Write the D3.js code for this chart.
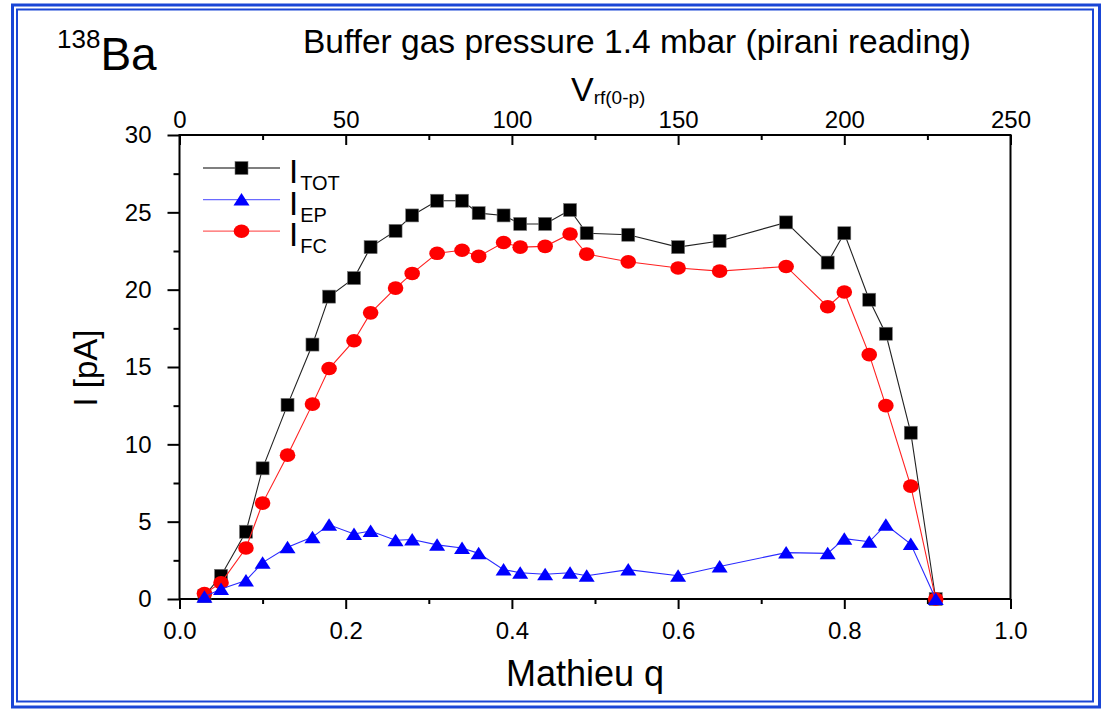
<!DOCTYPE html>
<html>
<head>
<meta charset="utf-8">
<script src="https://cdn.jsdelivr.net/npm/d3@7"></script>
<style>
  body { margin: 0; background: #fff; }
  text { font-family: Arial, "Liberation Sans", sans-serif; fill: #000; }
</style>
</head>
<body>
<svg id="chart" width="1106" height="712"></svg>
<script>
// data (Mathieu q vs current in pA)
var qValues = [0.03, 0.05, 0.08, 0.10, 0.13, 0.16, 0.18, 0.21, 0.23, 0.26, 0.28, 0.31, 0.34, 0.36, 0.39,
               0.41, 0.44, 0.47, 0.49, 0.54, 0.60, 0.65, 0.73, 0.78, 0.80, 0.83, 0.85, 0.88, 0.91];
var iTot = [0.2, 1.5, 4.35, 8.45, 12.55, 16.45, 19.55, 20.75, 22.75, 23.8, 24.8, 25.75, 25.75, 24.95, 24.8,
            24.25, 24.25, 25.15, 23.65, 23.55, 22.75, 23.15, 24.35, 21.75, 23.65, 19.35, 17.15, 10.75, 0];
var iEp = [0.15, 0.65, 1.2, 2.35, 3.35, 4.0, 4.8, 4.2, 4.4, 3.8, 3.85, 3.5, 3.3, 2.95, 1.9,
           1.7, 1.6, 1.7, 1.5, 1.9, 1.5, 2.1, 3.0, 2.95, 3.9, 3.7, 4.8, 3.55, 0];
var iFc = [0.35, 1.05, 3.3, 6.2, 9.3, 12.6, 14.9, 16.7, 18.5, 20.1, 21.05, 22.35, 22.55, 22.15, 23.05,
           22.75, 22.8, 23.6, 22.3, 21.8, 21.4, 21.2, 21.5, 18.9, 19.85, 15.8, 12.5, 7.3, 0];

var seriesNames = ["TOT", "EP", "FC"];

var qTicks = [0, 0.2, 0.4, 0.6, 0.8, 1.0];
var qMinor = [0.1, 0.3, 0.5, 0.7, 0.9];
var vTicks = [0, 50, 100, 150, 200, 250];
var vMinor = [25, 75, 125, 175, 225];
var iTicks = [0, 5, 10, 15, 20, 25, 30];
var iMinor = [2.5, 7.5, 12.5, 17.5, 22.5, 27.5];

var svg = d3.select("#chart");
var blue = "#1a46d6";

// double frame
svg.append("rect").attr("x", 12.5).attr("y", 5).attr("width", 1087).attr("height", 702)
    .attr("fill", "none").attr("stroke", blue).attr("stroke-width", 3);
svg.append("rect").attr("x", 17).attr("y", 9.5).attr("width", 1076).attr("height", 692)
    .attr("fill", "none").attr("stroke", blue).attr("stroke-width", 2);

var pLeft = 179.5, pRight = 1010.5, pTop = 135, pBottom = 599;

var x = d3.scaleLinear().domain([0, 1]).range([pLeft, pRight]);
var xTop = d3.scaleLinear().domain([0, 250]).range([pLeft, pRight]);
var y = d3.scaleLinear().domain([0, 30]).range([pBottom, pTop]);

function styleAxis(g, size) {
    g.select(".domain").remove();
    g.selectAll("line").attr("stroke", "#000").attr("stroke-width", 2);
    g.selectAll("text").attr("font-size", size).attr("fill", "#000")
        .attr("font-family", "Arial, 'Liberation Sans', sans-serif");
}

// bottom axis
svg.append("g").attr("transform", "translate(0," + pBottom + ")")
    .call(d3.axisBottom(x).tickValues(qMinor).tickSize(5).tickFormat(""))
    .call(styleAxis, 24);
svg.append("g").attr("transform", "translate(0," + pBottom + ")")
    .call(d3.axisBottom(x).tickValues(qTicks).tickSize(10).tickPadding(13).tickFormat(d3.format(".1f")))
    .call(styleAxis, 24);

// top axis (ticks pointing inward)
svg.append("g").attr("transform", "translate(0," + pTop + ")")
    .call(d3.axisTop(xTop).tickValues(vMinor).tickSize(-5).tickFormat(""))
    .call(styleAxis, 24);
svg.append("g").attr("transform", "translate(0," + pTop + ")")
    .call(d3.axisTop(xTop).tickValues(vTicks).tickSize(-10).tickPadding(7).tickFormat(d3.format("d")))
    .call(styleAxis, 24);

// left axis
svg.append("g").attr("transform", "translate(" + pLeft + ",0)")
    .call(d3.axisLeft(y).tickValues(iMinor).tickSize(6).tickFormat(""))
    .call(styleAxis, 24);
svg.append("g").attr("transform", "translate(" + pLeft + ",0)")
    .call(d3.axisLeft(y).tickValues(iTicks).tickSize(12).tickPadding(16).tickFormat(d3.format("d")))
    .call(styleAxis, 24);

// box
svg.append("rect").attr("x", pLeft).attr("y", pTop).attr("width", pRight - pLeft).attr("height", pBottom - pTop)
    .attr("fill", "none").attr("stroke", "#000").attr("stroke-width", 2);

// series (drawn black, red, blue so the triangles sit on top)
var series = [
    { name: "TOT", values: iTot, color: "#000", line: "#222", shape: "square" },
    { name: "FC", values: iFc, color: "#ff0000", line: "#ff2020", shape: "circle" },
    { name: "EP", values: iEp, color: "#0000ff", line: "#2a2aff", shape: "triangle" }
];

var line = d3.line().x(function(d) { return x(d[0]); }).y(function(d) { return y(d[1]); });

function drawMarker(g, shape, color) {
    if (shape === "square") {
        g.append("rect").attr("x", -6.5).attr("y", -6.5).attr("width", 13).attr("height", 13)
            .attr("fill", color).attr("stroke", "#777").attr("stroke-width", 0.6);
    } else if (shape === "circle") {
        g.append("ellipse").attr("rx", 7.8).attr("ry", 6.8).attr("fill", color);
    } else {
        g.append("path").attr("d", "M0,-6.5L8,6L-8,6Z").attr("fill", color);
    }
}

series.forEach(function(s) {
    var pts = qValues.map(function(q, i) { return [q, s.values[i]]; });
    svg.append("path").datum(pts).attr("d", line)
        .attr("fill", "none").attr("stroke", s.line).attr("stroke-width", 1.1);
    svg.append("g").selectAll("g").data(pts).enter().append("g")
        .attr("transform", function(d) { return "translate(" + x(d[0]) + "," + y(d[1]) + ")"; })
        .each(function() { drawMarker(d3.select(this), s.shape, s.color); });
});

// legend
var legend = [
    { name: "TOT", color: "#000", line: "#555", shape: "square" },
    { name: "EP", color: "#0000ff", line: "#6a6aff", shape: "triangle" },
    { name: "FC", color: "#ff0000", line: "#ff6060", shape: "circle" }
];
legend.forEach(function(l, i) {
    var ly = 168 + i * 31.6;
    svg.append("line").attr("x1", 203).attr("x2", 280).attr("y1", ly).attr("y2", ly)
        .attr("stroke", l.line).attr("stroke-width", 1.3);
    var g = svg.append("g").attr("transform", "translate(241.5," + ly + ")");
    drawMarker(g, l.shape, l.color);
    var t = svg.append("text").attr("x", 289).attr("y", ly + 15).attr("font-size", 33);
    t.append("tspan").text("I");
    t.append("tspan").attr("dy", 7).attr("dx", 2).attr("font-size", 20).text(l.name);
});

// titles
var iso = svg.append("text").attr("x", 57).attr("y", 70).attr("font-size", 46);
iso.append("tspan").attr("font-size", 26).attr("dy", -22).text("138");
iso.append("tspan").attr("dy", 22).text("Ba");

svg.append("text").attr("x", 303).attr("y", 53).attr("font-size", 33.5)
    .text("Buffer gas pressure 1.4 mbar (pirani reading)");

var vl = svg.append("text").attr("x", 571).attr("y", 101).attr("font-size", 34);
vl.append("tspan").text("V");
vl.append("tspan").attr("dy", 3).attr("font-size", 19).text("rf(0-p)");

svg.append("text").attr("x", 585).attr("y", 686).attr("text-anchor", "middle").attr("font-size", 36)
    .text("Mathieu q");

svg.append("text").attr("transform", "translate(97,368) rotate(-90)").attr("text-anchor", "middle")
    .attr("font-size", 33).text("I [pA]");
</script>
</body>
</html>
